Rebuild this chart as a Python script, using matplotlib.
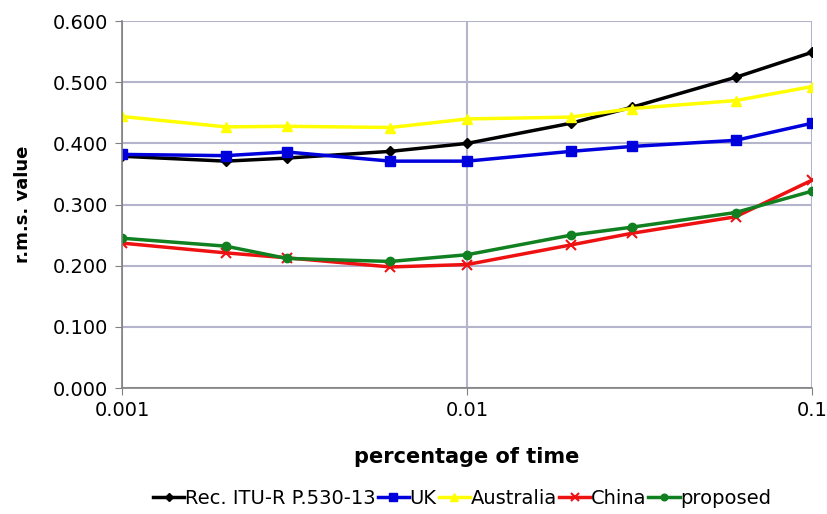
import matplotlib.pyplot as plt
from matplotlib.ticker import FixedLocator, NullLocator

# percentage of time (x) and r.m.s. values per method
pct_time = [0.001, 0.002, 0.003, 0.006, 0.01, 0.02, 0.03, 0.06, 0.1]
itu = [0.379, 0.371, 0.376, 0.387, 0.400, 0.433, 0.459, 0.508, 0.549]
uk = [0.382, 0.380, 0.386, 0.371, 0.371, 0.387, 0.395, 0.405, 0.433]
australia = [0.444, 0.427, 0.428, 0.426, 0.440, 0.443, 0.457, 0.470, 0.493]
china = [0.237, 0.221, 0.213, 0.198, 0.202, 0.234, 0.253, 0.280, 0.340]
proposed = [0.245, 0.232, 0.212, 0.207, 0.218, 0.250, 0.263, 0.287, 0.322]

x_ticks = [0.001, 0.01, 0.1]
x_labels = ['0.001', '0.01', '0.1']
y_ticks = [0.0, 0.1, 0.2, 0.3, 0.4, 0.5, 0.6]

fig = plt.figure(figsize=(8.27, 5.14), dpi=100)
ax = fig.add_axes([0.1475, 0.245, 0.8345, 0.714])

ax.plot(pct_time, itu, color='black', marker='D', ms=5, lw=2.5, label='Rec. ITU-R P.530-13')
ax.plot(pct_time, uk, color='#0000dd', marker='s', ms=7, lw=2.5, label='UK')
ax.plot(pct_time, australia, color='#ffff00', marker='^', ms=7, lw=2.5, label='Australia')
ax.plot(pct_time, china, color='#ee1111', marker='x', ms=7, mew=1.5, lw=2.5, label='China')
ax.plot(pct_time, proposed, color='#108020', marker='o', ms=6, lw=2.5, label='proposed')

ax.set_xscale('log')
ax.set_xlim(0.001, 0.1)
ax.set_ylim(0, 0.6)
ax.xaxis.set_major_locator(FixedLocator(x_ticks))
ax.xaxis.set_minor_locator(NullLocator())
ax.set_xticklabels(x_labels)
ax.set_yticks(y_ticks)
ax.set_yticklabels(['%.3f' % v for v in y_ticks])

ax.grid(True, color='#b4b4cc', lw=1.5)
ax.set_axisbelow(True)
for s in ['top', 'right']:
    ax.spines[s].set_visible(False)
for s in ['left', 'bottom']:
    ax.spines[s].set_color('#808080')
    ax.spines[s].set_linewidth(1.2)
ax.tick_params(axis='both', colors='#808080', labelcolor='black', labelsize=14, length=5, direction='out')
ax.tick_params(axis='x', pad=4)
ax.tick_params(axis='y', pad=5)

ax.set_xlabel('percentage of time', fontsize=15, fontweight='bold', labelpad=20)
ax.set_ylabel('r.m.s. value', fontsize=13, fontweight='bold', labelpad=15)

fig.legend(loc='lower center', bbox_to_anchor=(0.559, -0.022), ncol=5, frameon=False,
           fontsize=14, handlelength=1.6, handletextpad=0.05, columnspacing=0.1,
           markerscale=0.8)

fig.savefig('out.png', dpi=100)
